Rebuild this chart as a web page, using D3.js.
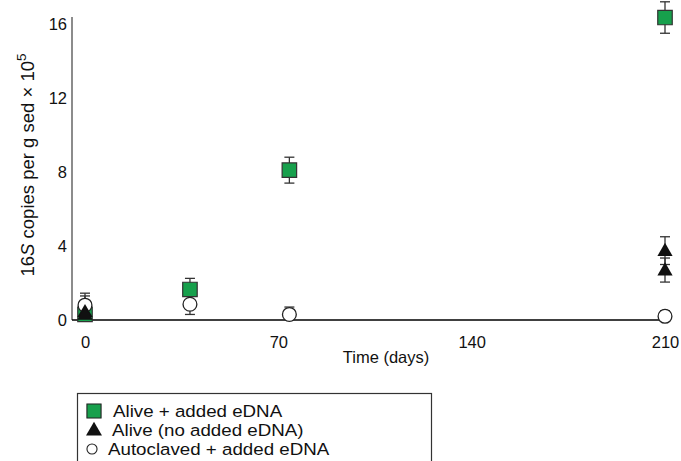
<!DOCTYPE html>
<html>
<head>
<meta charset="utf-8">
<script src="https://cdn.jsdelivr.net/npm/d3@7"></script>
<style>
  body { margin: 0; background: #fff; }
  svg { display: block; font-family: "Liberation Sans", Arial, sans-serif; }
</style>
</head>
<body>
<div id="chart"></div>
<script>
// Alive + added eDNA (green squares)
const aliveDays = [0, 38, 74, 210];
const aliveMean = [0.3, 1.65, 8.1, 16.35];
const aliveErr  = [0.2, 0.6, 0.7, 0.85];

// Alive, no added eDNA (triangles, two replicates at some times)
const noDnaDays = [0, 0, 210, 210];
const noDnaMean = [0.45, 0.3, 3.75, 2.7];
const noDnaErr  = [0.85, 0.2, 0.75, 0.65];

// Autoclaved + added eDNA (open circles)
const autoDays = [0, 38, 74, 210];
const autoMean = [0.8, 0.85, 0.3, 0.2];
const autoErr  = [0.65, 0.55, 0.4, 0.3];

const xTicks = [0, 70, 140, 210];
const yTicks = [0, 4, 8, 12, 16];
const legendLabels = ["Alive + added eDNA", "Alive (no added eDNA)", "Autoclaved + added eDNA"];

const width = 681, height = 461;
const green = "#17a04c";

const svg = d3.select("#chart").append("svg")
    .attr("width", width)
    .attr("height", height);

const x = d3.scaleLinear().domain([0, 210]).range([85, 665]);
const y = d3.scaleLinear().domain([0, 16]).range([320, 24]);

function rows(days, mean, err) {
  return days.map((d, i) => ({ day: d, v: mean[i], e: err[i] }));
}

// axes lines
svg.append("line")
    .attr("x1", 72).attr("x2", 72)
    .attr("y1", 17).attr("y2", 320)
    .attr("stroke", "#666").attr("stroke-width", 1.5);
svg.append("line")
    .attr("x1", 72).attr("x2", x(210))
    .attr("y1", 320).attr("y2", 320)
    .attr("stroke", "#000").attr("stroke-width", 1.3);

// tick labels
const yAxis = svg.append("g")
    .attr("transform", "translate(72,0)")
    .call(d3.axisLeft(y).tickValues(yTicks).tickSize(0).tickPadding(5));
const xAxis = svg.append("g")
    .attr("transform", "translate(0,320)")
    .call(d3.axisBottom(x).tickValues(xTicks).tickSize(0).tickPadding(16));
[yAxis, xAxis].forEach(a => {
  a.select(".domain").remove();
  a.selectAll("text").attr("font-size", 16.5).attr("fill", "#111")
    .style("font-family", "Liberation Sans, Arial, sans-serif");
});

svg.append("text")
    .attr("x", 386).attr("y", 363)
    .attr("text-anchor", "middle")
    .attr("font-size", 16.5).attr("fill", "#111")
    .text("Time (days)");

const yl = svg.append("text")
    .attr("transform", "translate(34,165) rotate(-90)")
    .attr("text-anchor", "middle")
    .attr("font-size", 18.5).attr("fill", "#111");
yl.append("tspan").text("16");
yl.append("tspan").attr("font-style", "italic").text("S");
yl.append("tspan").text(" copies per g sed \u00d7 10");
yl.append("tspan").attr("dy", -8).attr("font-size", 13.5).text("5");

// error bars
function errorBars(data) {
  const g = svg.append("g").attr("stroke", "#333").attr("stroke-width", 1.3);
  data.forEach(d => {
    const cx = x(d.day);
    g.append("line").attr("x1", cx).attr("x2", cx)
      .attr("y1", y(d.v + d.e)).attr("y2", y(Math.max(0, d.v - d.e)));
    g.append("line").attr("x1", cx - 5).attr("x2", cx + 5)
      .attr("y1", y(d.v + d.e)).attr("y2", y(d.v + d.e));
    if (d.v - d.e > 0) {
      g.append("line").attr("x1", cx - 5).attr("x2", cx + 5)
        .attr("y1", y(d.v - d.e)).attr("y2", y(d.v - d.e));
    }
  });
}

const alive = rows(aliveDays, aliveMean, aliveErr);
const noDna = rows(noDnaDays, noDnaMean, noDnaErr);
const auto = rows(autoDays, autoMean, autoErr);

errorBars(alive);
errorBars(auto);
errorBars(noDna);

const sq = d3.symbol().type(d3.symbolSquare).size(210);
const tri = d3.symbol().type(d3.symbolTriangle).size(100);
const circ = d3.symbol().type(d3.symbolCircle).size(150);

svg.append("g").selectAll("path").data(alive).join("path")
    .attr("transform", d => `translate(${x(d.day)},${y(d.v)})`)
    .attr("d", sq)
    .attr("fill", green).attr("stroke", "#333").attr("stroke-width", 1.2);

svg.append("g").selectAll("path").data(auto).join("path")
    .attr("transform", d => `translate(${x(d.day)},${y(d.v)})`)
    .attr("d", circ)
    .attr("fill", "#fff").attr("stroke", "#222").attr("stroke-width", 1.3);

svg.append("g").selectAll("path").data(noDna).join("path")
    .attr("transform", d => `translate(${x(d.day)},${y(d.v) + 1})`)
    .attr("d", tri)
    .attr("fill", "#111");

// legend
const lg = svg.append("g");
lg.append("rect")
    .attr("x", 77.5).attr("y", 393.5)
    .attr("width", 354).attr("height", 80)
    .attr("fill", "#fff").attr("stroke", "#333").attr("stroke-width", 1.2);

const legendY = [411, 430, 449];
const legendX = [113, 112, 108];
const legendSym = [
  d3.symbol().type(d3.symbolSquare).size(200),
  d3.symbol().type(d3.symbolTriangle).size(110),
  d3.symbol().type(d3.symbolCircle).size(80)
];
legendLabels.forEach((lab, i) => {
  lg.append("path")
    .attr("transform", `translate(${i === 2 ? 92 : 94},${legendY[i] + (i === 1 ? 1 : 0)})`)
    .attr("d", legendSym[i])
    .attr("fill", i === 0 ? green : i === 1 ? "#111" : "#fff")
    .attr("stroke", i === 1 ? "none" : "#222")
    .attr("stroke-width", 1.1);
  const t = lg.append("text")
    .attr("x", legendX[i]).attr("y", legendY[i] + 6)
    .attr("font-size", 16.3).attr("fill", "#111")
    .text(lab);
  // reference lettering is wider than Liberation Sans at this height
  const w = t.node().getComputedTextLength();
  t.attr("textLength", w * 1.15).attr("lengthAdjust", "spacingAndGlyphs");
});
</script>
</body>
</html>
